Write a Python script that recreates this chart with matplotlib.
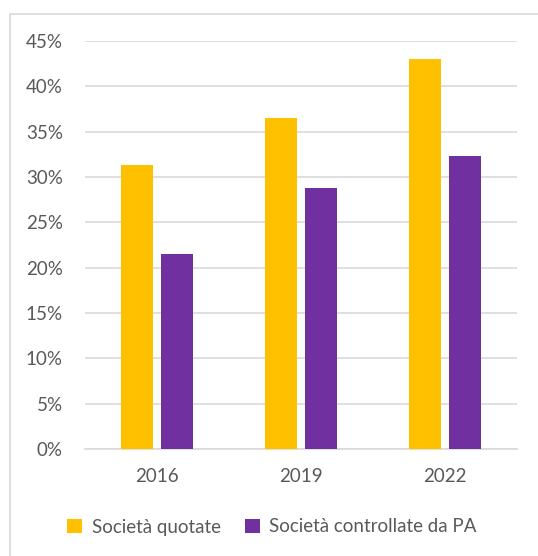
import numpy as np
import matplotlib.pyplot as plt
from matplotlib.patches import Patch, Rectangle

plt.rcParams['font.family'] = ['Lato', 'DejaVu Sans']

anni = ["2016", "2019", "2022"]
quotate = [31.3, 36.5, 43.0]
controllate_pa = [21.5, 28.8, 32.3]
serie = ["Società quotate", "Società controllate da PA"]
colori = ["#FFC000", "#7030A0"]
testo = "#595959"
griglia = "#D9D9D9"

fig = plt.figure(figsize=(5.38, 5.56), dpi=100)
W, H = 538, 556

# cornice del grafico (esce a destra e in basso)
fig.patches.append(Rectangle((10 / W, -0.1), 1.2, 1 - 14 / H + 0.1,
                             transform=fig.transFigure, fill=False,
                             edgecolor=griglia, linewidth=1.2))

ax = fig.add_axes([85 / W, 1 - 449 / H, (517 - 85) / W, (449 - 41) / H])

x = np.arange(len(anni))
w = 0.222
off = 0.139
ax.bar(x - off, quotate, w, color=colori[0], zorder=3)
ax.bar(x + off, controllate_pa, w, color=colori[1], zorder=3)

ax.set_xlim(-0.5, 2.5)
ax.set_ylim(0, 45)
ax.set_yticks(np.arange(0, 46, 5))
ax.set_yticklabels([f"{v}%" for v in range(0, 46, 5)])
ax.set_xticks(x)
ax.set_xticklabels(anni)
ax.grid(axis="y", color=griglia, linewidth=1.2, zorder=0)
for s in ["top", "right", "left"]:
    ax.spines[s].set_visible(False)
ax.spines["bottom"].set_color(griglia)
ax.spines["bottom"].set_linewidth(1.2)
ax.tick_params(length=0, labelsize=13.5, colors=testo)
ax.tick_params(axis="y", pad=16)
ax.tick_params(axis="x", pad=14)

handles = [Patch(facecolor=c, label=l) for c, l in zip(colori, serie)]
fig.legend(handles=handles, loc="center", bbox_to_anchor=(272 / W, 1 - 527 / H),
           ncol=2, frameon=False, fontsize=13.5, labelcolor=testo,
           handlelength=0.8, handleheight=0.8, handletextpad=0.5, columnspacing=1.3)

fig.savefig("out.png", dpi=100)
